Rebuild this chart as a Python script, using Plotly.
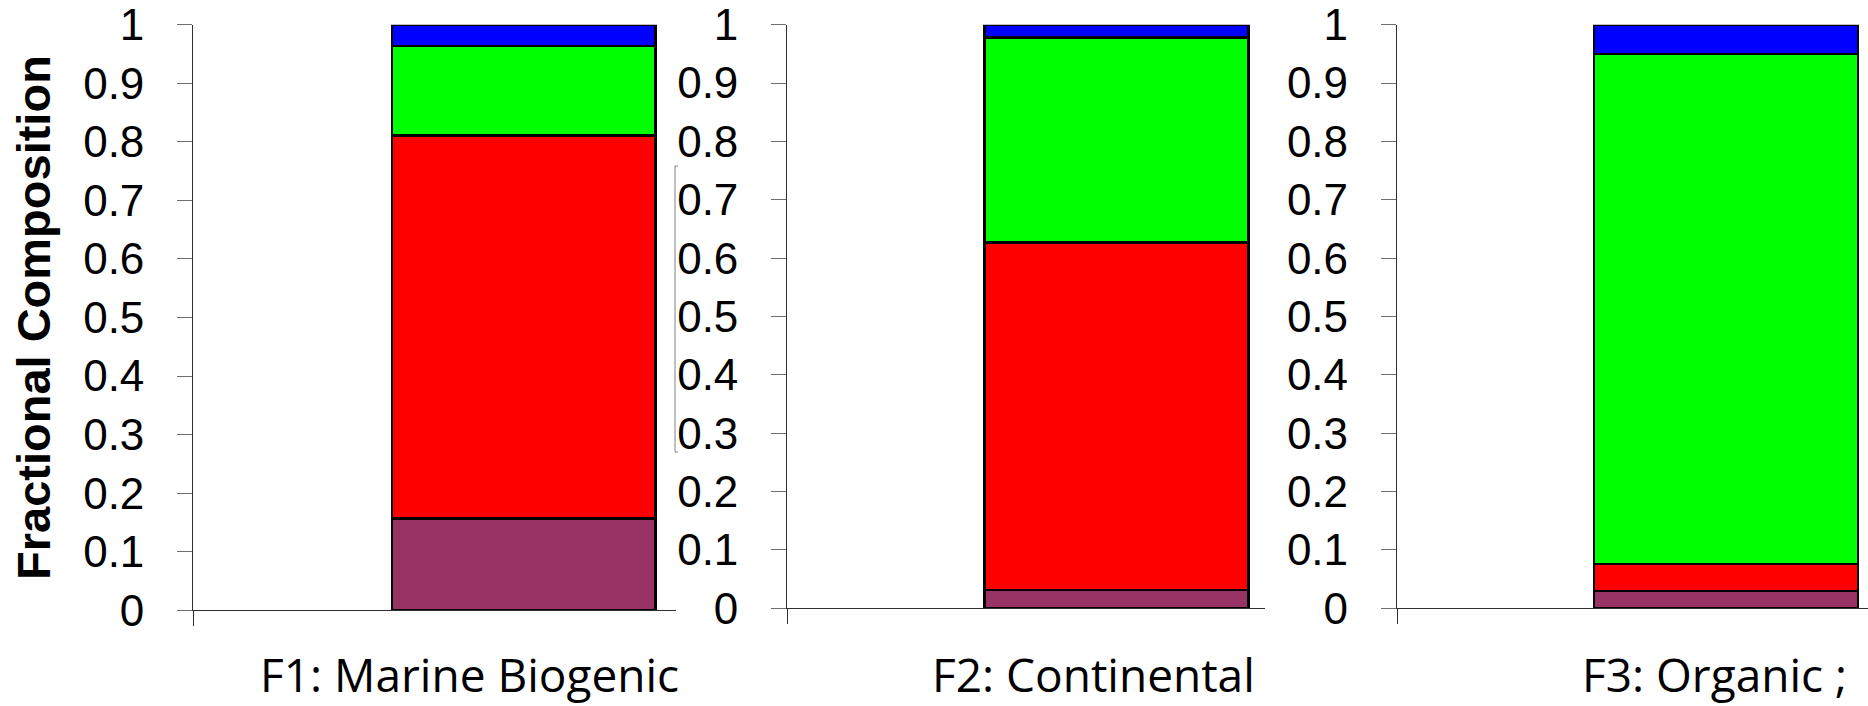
import plotly.graph_objects as go

# ---- data ----
factors = ["F1: Marine Biogenic", "F2: Continental", "F3: Organic ;"]
purple_vals = [0.157, 0.031, 0.030]
red_vals = [0.654, 0.596, 0.046]
green_vals = [0.153, 0.351, 0.874]
blue_vals = [0.036, 0.022, 0.050]
y_ticks = [0, 0.1, 0.2, 0.3, 0.4, 0.5, 0.6, 0.7, 0.8, 0.9, 1]
y_tick_text = ["0", "0.1", "0.2", "0.3", "0.4", "0.5", "0.6", "0.7", "0.8", "0.9", "1"]
y_title = "Fractional Composition"

series = [
    ("Component 1", purple_vals, "#993366"),
    ("Component 2", red_vals, "#FF0000"),
    ("Component 3", green_vals, "#00FF00"),
    ("Component 4", blue_vals, "#0000FF"),
]

W, H = 1868, 706

def px(x):
    return x / W

def py(y):
    return 1 - y / H

# panel geometry in pixels: (axis left, axis right, zero y, top y, x range)
panels = [
    (193.3, 676.3, 610.3, 24.7, [-1.252, 0.578]),
    (787.3, 1265.0, 608.3, 24.7, [-1.246, 0.563]),
    (1397.0, 1868.0, 608.3, 24.7, [-1.246, 0.538]),
]
label_centers = [469, 1093, 1714]

fig = go.Figure()
for i in range(3):
    suffix = "" if i == 0 else str(i + 1)
    for name, vals, color in series:
        fig.add_trace(go.Bar(
            x=[0], y=[vals[i]], width=[1], name=name,
            marker=dict(color=color, line=dict(color="black", width=2.5)),
            xaxis="x" + suffix, yaxis="y" + suffix, showlegend=False,
        ))

layout = dict(
    width=W, height=H, barmode="stack",
    margin=dict(l=0, r=0, t=0, b=0, autoexpand=False),
    paper_bgcolor="white", plot_bgcolor="white",
    showlegend=False,
)
for i, (xl, xr, y0, y1, xrange) in enumerate(panels):
    suffix = "" if i == 0 else str(i + 1)
    layout["xaxis" + suffix] = dict(
        domain=[px(xl), px(xr)], range=xrange, anchor="y" + suffix, automargin=False,
        showgrid=False, zeroline=False, showline=True, linecolor="#303030", linewidth=1.3,
        ticks="outside", ticklen=15, tickcolor="#303030", tickwidth=1.3,
        tickvals=[xrange[0]], showticklabels=False,
    )
    layout["yaxis" + suffix] = dict(
        domain=[py(y0), py(y1)], range=[0, 1], anchor="x" + suffix, automargin=False,
        showgrid=False, zeroline=False, showline=True, linecolor="#303030", linewidth=1.3,
        ticks="outside", ticklen=15, tickcolor="#707070", tickwidth=1.3,
        tickvals=y_ticks, ticktext=y_tick_text, ticklabelstandoff=24,
        tickfont=dict(family="Liberation Sans, Arial", size=44, color="black"),
    )
fig.update_layout(**layout)

annotations = []
for i, name in enumerate(factors):
    annotations.append(dict(
        x=px(label_centers[i]), y=0, xref="paper", yref="paper",
        text=name, showarrow=False, xanchor="center", yanchor="bottom", borderpad=0,
        font=dict(family="Open Sans", size=46, color="black"),
    ))
annotations.append(dict(
    x=px(33), y=py(318), xref="paper", yref="paper", text="<b>" + y_title + "</b>",
    textangle=-90, showarrow=False, xanchor="center", yanchor="middle",
    font=dict(family="Liberation Sans, Arial", size=47, color="black"),
))
fig.update_layout(annotations=annotations)

# thin bracket artifact between panel 1 and 2
fig.add_shape(type="path", xref="paper", yref="paper",
              path=f"M {px(678)} {py(166)} L {px(675)} {py(166)} L {px(675)} {py(452)} L {px(678)} {py(452)}",
              line=dict(color="#808080", width=1))

fig.write_html("out.html", config={"displayModeBar": False},
               post_script="document.body.style.margin='0';document.body.style.overflow='hidden';")
